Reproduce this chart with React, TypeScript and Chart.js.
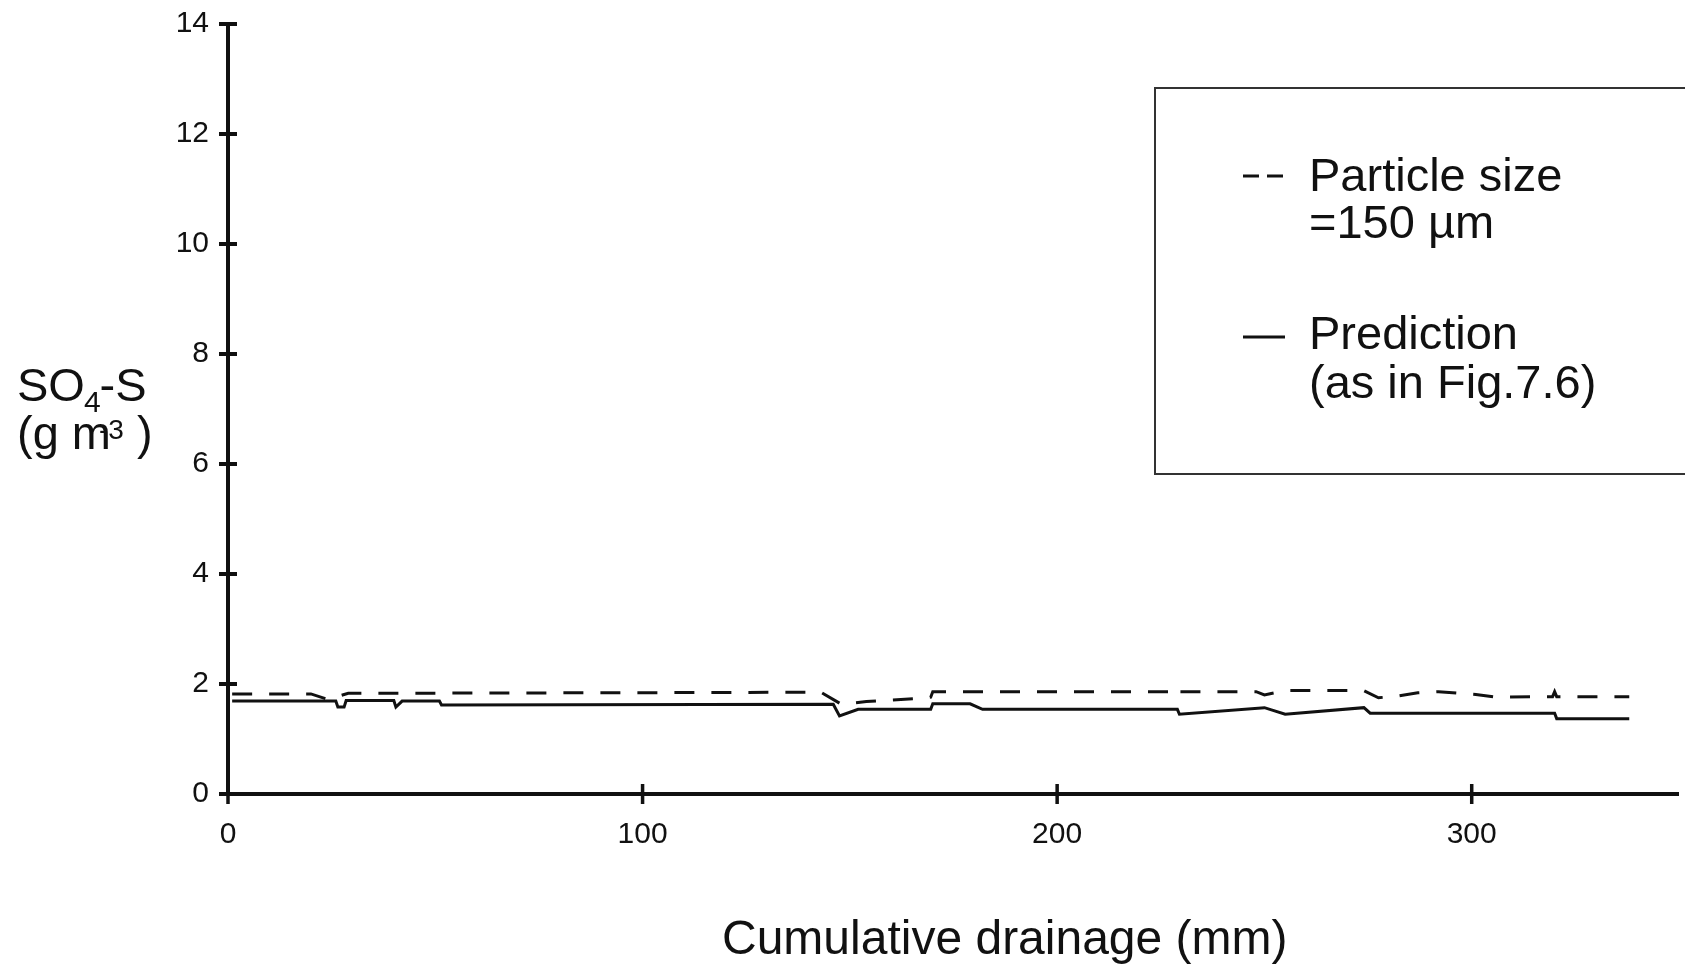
import React, { useEffect, useRef } from "react";
import { Chart, registerables } from "chart.js";

Chart.register(...registerables);

// Cumulative drainage (mm) and SO4-S (g m-3) — prediction (solid)
const predX = [1, 26, 26.5, 28, 28.5, 40, 40.5, 42, 51, 51.5, 146, 147.5, 152, 169.5, 170, 179, 182, 229, 229.5, 250, 255, 274, 275.5, 320, 320.5, 338];
const predY = [1.69, 1.69, 1.58, 1.58, 1.70, 1.70, 1.58, 1.69, 1.69, 1.62, 1.63, 1.42, 1.54, 1.54, 1.64, 1.64, 1.54, 1.54, 1.45, 1.57, 1.45, 1.57, 1.47, 1.47, 1.37, 1.37];

// Particle size = 150 um (dashed)
const dashX = [1, 20, 24, 29, 143, 148, 154, 167, 169.5, 170, 229, 229.3, 229.6, 248, 250, 255, 274, 277.5, 282, 287, 292, 297, 301, 306, 319.5, 320, 320.5, 338];
const dashY = [1.82, 1.82, 1.72, 1.83, 1.85, 1.63, 1.68, 1.74, 1.76, 1.86, 1.86, 1.80, 1.86, 1.86, 1.80, 1.88, 1.88, 1.75, 1.78, 1.84, 1.86, 1.83, 1.81, 1.76, 1.77, 1.86, 1.77, 1.77];

const xTicks = [0, 100, 200, 300];
const yTicks = [0, 2, 4, 6, 8, 10, 12, 14];

const legendLabels = ["Particle size", "=150 \u00B5m", "Prediction", "(as in Fig.7.6)"];
const xTitle = "Cumulative drainage (mm)";

const FONT = "'Liberation Sans', Arial, Helvetica, sans-serif";
const INK = "#111";

const decorPlugin = {
  id: "decor",
  afterDraw(chart: any) {
    const ctx = chart.ctx as CanvasRenderingContext2D;
    const xs = chart.scales.x;
    const ys = chart.scales.y;
    const x0 = xs.getPixelForValue(0);
    const y0 = ys.getPixelForValue(0);
    ctx.save();
    ctx.strokeStyle = INK;
    ctx.fillStyle = INK;
    ctx.lineCap = "butt";
    // axes
    ctx.lineWidth = 4;
    ctx.beginPath();
    ctx.moveTo(x0, ys.getPixelForValue(14) - 2);
    ctx.lineTo(x0, y0 + 2);
    ctx.moveTo(x0 - 9, y0);
    ctx.lineTo(xs.getPixelForValue(350), y0);
    ctx.stroke();
    // y ticks
    ctx.lineWidth = 4;
    ctx.beginPath();
    for (const v of yTicks) {
      const p = ys.getPixelForValue(v);
      ctx.moveTo(x0 - 9, p);
      ctx.lineTo(x0 + 9, p);
    }
    ctx.stroke();
    // x ticks
    ctx.lineWidth = 3.5;
    ctx.beginPath();
    for (const v of xTicks) {
      const p = xs.getPixelForValue(v);
      ctx.moveTo(p, y0 - 10);
      ctx.lineTo(p, y0 + 10);
    }
    ctx.stroke();

    // y title
    ctx.textBaseline = "alphabetic";
    ctx.textAlign = "left";
    let x = 17;
    ctx.font = `47px ${FONT}`;
    ctx.fillText("SO", x, 401);
    x += ctx.measureText("SO").width;
    ctx.font = `30px ${FONT}`;
    ctx.fillText("4", x - 1, 412);
    x += ctx.measureText("4").width - 2;
    ctx.font = `47px ${FONT}`;
    ctx.fillText("-S", x, 401);
    x = 17;
    ctx.fillText("(g m", x, 449);
    x += ctx.measureText("(g m").width;
    ctx.font = `28px ${FONT}`;
    const supX = x - 12;
    ctx.fillText("-3", supX, 439);
    x = supX + ctx.measureText("-3").width;
    ctx.font = `47px ${FONT}`;
    ctx.fillText(" )", x, 449);

    // x title
    ctx.font = `48px ${FONT}`;
    ctx.fillText(xTitle, 722, 954);

    // legend box
    ctx.lineWidth = 2;
    ctx.strokeStyle = "#333";
    ctx.strokeRect(1155, 88, 600, 386);
    ctx.font = `47px ${FONT}`;
    ctx.fillStyle = INK;
    ctx.fillText(legendLabels[0], 1309, 191);
    ctx.fillText(legendLabels[1], 1309, 238);
    ctx.fillText(legendLabels[2], 1309, 349);
    ctx.fillText(legendLabels[3], 1309, 398);
    // legend markers
    ctx.strokeStyle = INK;
    ctx.lineWidth = 3;
    ctx.beginPath();
    ctx.moveTo(1243, 176);
    ctx.lineTo(1259, 176);
    ctx.moveTo(1267, 176);
    ctx.lineTo(1283, 176);
    ctx.moveTo(1243, 337);
    ctx.lineTo(1285, 337);
    ctx.stroke();
    ctx.restore();
  },
};

export default function App() {
  const ref = useRef<HTMLCanvasElement | null>(null);
  useEffect(() => {
    if (!ref.current) return;
    const chart = new Chart(ref.current, {
      type: "line",
      data: {
        datasets: [
          {
            label: "Particle size =150 um",
            data: dashX.map((x, i) => ({ x, y: dashY[i] })),
            borderColor: INK,
            borderWidth: 3,
            borderDash: [20, 17],
            pointRadius: 0,
            tension: 0,
            fill: false,
          },
          {
            label: "Prediction (as in Fig.7.6)",
            data: predX.map((x, i) => ({ x, y: predY[i] })),
            borderColor: INK,
            borderWidth: 3,
            pointRadius: 0,
            tension: 0,
            fill: false,
          },
        ],
      },
      options: {
        animation: false,
        responsive: false,
        devicePixelRatio: 1,
        layout: { padding: { top: 24, right: 6, left: 0, bottom: 0 } },
        plugins: { legend: { display: false }, tooltip: { enabled: false } },
        scales: {
          x: {
            type: "linear",
            min: 0,
            max: 350,
            grid: { display: false, drawTicks: false },
            border: { display: false },
            afterBuildTicks: (s: any) => {
              s.ticks = xTicks.map((v) => ({ value: v }));
            },
            afterFit: (s: any) => {
              s.height = 171;
              s.paddingLeft = 0;
              s.paddingRight = 0;
            },
            ticks: {
              padding: 23,
              maxRotation: 0,
              font: { family: FONT, size: 30 },
              color: INK,
            },
          },
          y: {
            type: "linear",
            min: 0,
            max: 14,
            grid: { display: false, drawTicks: false },
            border: { display: false },
            afterBuildTicks: (s: any) => {
              s.ticks = yTicks.map((v) => ({ value: v }));
            },
            afterFit: (s: any) => {
              s.width = 228;
              s.paddingTop = 0;
              s.paddingBottom = 0;
            },
            ticks: {
              padding: 19,
              font: { family: FONT, size: 30 },
              color: INK,
            },
          },
        },
      },
      plugins: [decorPlugin],
    } as any);
    return () => chart.destroy();
  }, []);
  return (
    <div style={{ position: "absolute", left: 0, top: 0, width: 1685, height: 965, background: "#fff" }}>
      <canvas ref={ref} width={1685} height={965} style={{ display: "block" }} />
    </div>
  );
}
